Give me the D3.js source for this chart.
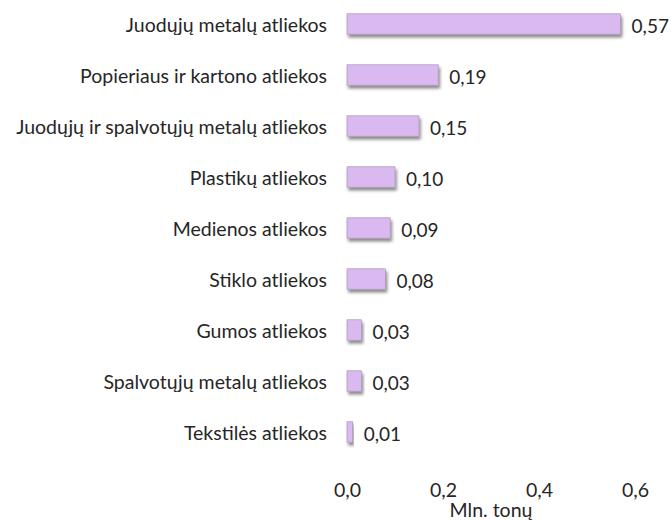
<!DOCTYPE html>
<html><head><meta charset="utf-8">
<script src="https://cdn.jsdelivr.net/npm/d3@7"></script>
<style>body{margin:0;background:#fff}svg{display:block}text{font-family:Lato,"Open Sans",sans-serif;fill:#262626}</style>
</head><body>
<svg id="c" width="671" height="521"></svg>
<script>
const categories = ["Juodųjų metalų atliekos","Popieriaus ir kartono atliekos","Juodųjų ir spalvotųjų metalų atliekos","Plastikų atliekos","Medienos atliekos","Stiklo atliekos","Gumos atliekos","Spalvotųjų metalų atliekos","Tekstilės atliekos"];
const values = [0.57,0.19,0.15,0.10,0.09,0.08,0.03,0.03,0.012];
const valueLabels = ["0,57","0,19","0,15","0,10","0,09","0,08","0,03","0,03","0,01"];
const xTicks = [0,0.2,0.4,0.6];
const xTickLabels = ["0,0","0,2","0,4","0,6"];
const axisTitle = "Mln. tonų";

const svg = d3.select("#c");
const x = d3.scaleLinear().domain([0,0.6]).range([347,635]);
const y = d3.scaleBand().domain(categories).range([-1.5,457.5]).paddingInner(0.6).paddingOuter(0.3);

const defs = svg.append("defs");
const f = defs.append("filter").attr("id","sh").attr("x","-20%").attr("y","-40%").attr("width","140%").attr("height","200%");
f.append("feDropShadow").attr("dx",1.5).attr("dy",3).attr("stdDeviation",1.8).attr("flood-color","#000").attr("flood-opacity",0.45);

const data = categories.map((c,i)=>({c,v:values[i],l:valueLabels[i]}));

svg.selectAll("rect.bar").data(data).enter().append("rect")
  .attr("class","bar")
  .attr("x",x(0)).attr("y",d=>y(d.c))
  .attr("width",d=>x(d.v)-x(0)).attr("height",y.bandwidth())
  .attr("fill","#d9b9ef").attr("stroke","#a08aa8").attr("stroke-width",0.6)
  .attr("filter","url(#sh)");

svg.selectAll("text.cat").data(data).enter().append("text")
  .attr("class","cat").attr("x",327).attr("y",d=>y(d.c)+y.bandwidth()/2)
  .attr("text-anchor","end").attr("dominant-baseline","central")
  .style("font-size","19.5px").text(d=>d.c);

svg.selectAll("text.val").data(data).enter().append("text")
  .attr("class","val").attr("x",d=>x(d.v)+11).attr("y",d=>y(d.c)+y.bandwidth()/2+1)
  .attr("dominant-baseline","central")
  .style("font-size","19px").text(d=>d.l);

const axis = d3.axisBottom(x).tickValues(xTicks).tickFormat((d,i)=>xTickLabels[i]).tickSize(0).tickPadding(0);
const g = svg.append("g").attr("transform","translate(0,489)").call(axis);
g.select(".domain").remove();
g.selectAll("text").attr("dy",null).attr("y",0).attr("dominant-baseline","central")
  .style("font-size","19.5px").attr("font-family",null).style("font-family","Lato,'Open Sans',sans-serif").attr("fill","#262626");

svg.append("text").attr("x",x(0.3)).attr("y",509).attr("text-anchor","middle").attr("dominant-baseline","central")
  .style("font-size","19.5px").text(axisTitle);
</script>
</body></html>
